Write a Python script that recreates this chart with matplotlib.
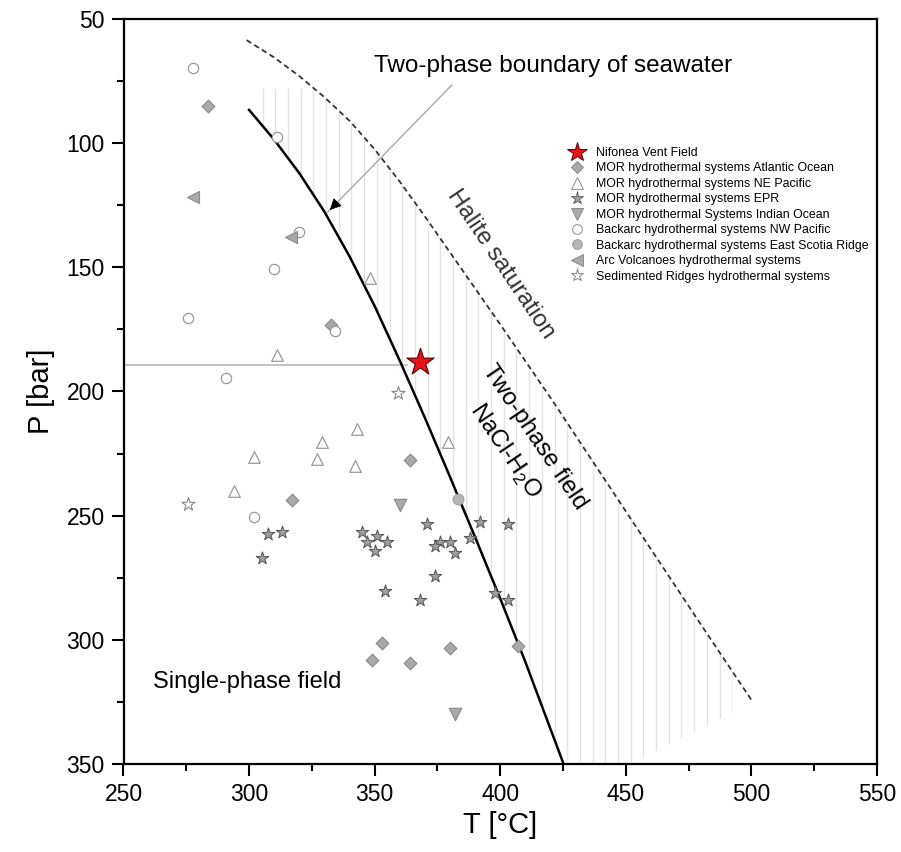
import matplotlib
matplotlib.use("Agg")
import matplotlib.pyplot as plt
import numpy as np
from matplotlib.lines import Line2D
from matplotlib.patches import Polygon

plt.rcParams["font.family"] = ["Liberation Sans", "DejaVu Sans"]
plt.rcParams["mathtext.fontset"] = "custom"
plt.rcParams["mathtext.rm"] = "Liberation Sans"

# ---- boundary curves (T in degC, P in bar)
boil_T = [300, 310, 320, 330, 340, 350, 360, 370, 380, 390, 400, 410, 425]
boil_P = [86.6, 98.6, 112.1, 127.6, 145.6, 165.6, 187.6, 210.6, 234.4, 258.7, 283.4,
          308.9, 349.4]

halite_T = [299, 310, 320, 330, 340, 350, 360, 370, 380, 390, 400, 420, 440, 460, 480, 500]
halite_P = [58.5, 65.5, 73, 81.5, 91, 102.5, 115.5, 129.5, 144, 158.5, 173, 202.5, 233,
            263.5, 294, 324.2]

# hatched two-phase field: flat top, lower-right cut
hatch_top_P = 78
hatch_cut_T = [492.4, 452.0]
hatch_cut_P = [329.4, 350.0]
hatch_T0, hatch_T1, hatch_step = 305.4, 492.5, 5.053

# ---- vent fluid data
atl_T = [283.8, 332.8, 364.0, 316.9, 353.1, 348.8, 364.0, 379.9, 407.1]
atl_P = [84.9, 173.2, 227.5, 243.6, 301.3, 308.3, 309.4, 303.3, 302.4]

nep_T = [348.1, 311.0, 342.9, 328.9, 301.9, 327.0, 342.0, 294.0, 379.0]
nep_P = [154.4, 185.3, 215.2, 220.2, 226.2, 227.3, 230.0, 240.0, 220.2]

epr_T = [307.5, 313.1, 305.1, 344.8, 351.0, 347.0, 355.0, 350.1, 370.9, 375.9, 374.0,
         379.9, 381.9, 387.9, 391.8, 403.0, 374.0, 354.0, 368.0, 398.1, 403.1]
epr_P = [257.3, 256.5, 267.0, 256.4, 258.1, 260.5, 260.5, 264.4, 253.3, 260.5, 262.2,
         260.5, 265.1, 258.8, 252.4, 253.4, 274.2, 280.5, 283.9, 281.2, 283.9]

ind_T = [360.0, 381.9]
ind_P = [245.9, 329.8]

nwp_T = [277.8, 311.0, 319.8, 309.9, 275.8, 334.2, 290.8, 301.9]
nwp_P = [69.6, 97.6, 135.6, 150.6, 170.5, 175.5, 194.4, 250.5]

esr_T = [383.0]
esr_P = [243.4]

arc_T = [277.8, 316.7]
arc_P = [121.8, 137.6]

sed_T = [359.1, 275.8]
sed_P = [200.7, 245.4]

nif_T, nif_P = 368.0, 188.0

fig = plt.figure(figsize=(9.01, 8.52), dpi=100)
ax = fig.add_axes([123.5 / 901, 1 - 764 / 852, (877 - 123.5) / 901, (764 - 19) / 852])
ax.set_xlim(250, 550)
ax.set_ylim(350, 50)

# hatch: light vertical lines clipped to the two-phase field
top_T = np.interp(hatch_top_P, halite_P, halite_T)
hal_T = np.array(halite_T)
hal_P = np.array(halite_P)
keep = (hal_T > top_T) & (hal_T < hatch_cut_T[0])
poly = ([(boil_T[0], hatch_top_P), (top_T, hatch_top_P)]
        + list(zip(hal_T[keep], hal_P[keep]))
        + [(hatch_cut_T[0], np.interp(hatch_cut_T[0], halite_T, halite_P))]
        + list(zip(hatch_cut_T, hatch_cut_P))
        + list(zip(boil_T[::-1], boil_P[::-1])))
clip = Polygon(poly, closed=True, facecolor="none", edgecolor="none")
ax.add_patch(clip)
hl = ax.vlines(np.arange(hatch_T0, hatch_T1, hatch_step), 50, 350,
               color="#e4e4e4", lw=1.0, zorder=1)
hl.set_clip_path(clip)

ax.plot(boil_T, boil_P, color="black", lw=1.8, zorder=3)
ax.plot(halite_T, halite_P, color="#333333", lw=1.3, ls=(0, (3, 2)), zorder=3)

# guide line to Nifonea and arrow to the boundary
ax.plot([250, nif_T - 5], [189.5, 189.5], color="#bdbdbd", lw=1.3, zorder=2)
arr_start = (380.7, 76.6)
arr_tip = (331.4, 127.7)
ax.plot([arr_start[0], arr_tip[0]], [arr_start[1], arr_tip[1]], color="#a8a8a8", lw=1.0, zorder=2)
ax.annotate("", xy=arr_tip, xytext=(arr_tip[0] + 3, arr_tip[1] - 3.1),
            arrowprops=dict(arrowstyle="-|>", color="black", lw=0.5, mutation_scale=18),
            zorder=4)

grey_fill = "#a9a9a9"
grey_edge = "#8a8a8a"
open_edge = "#9a9a9a"

ax.scatter(atl_T, atl_P, marker="D", s=42, facecolor=grey_fill, edgecolor=grey_edge, lw=0.8, zorder=5)
ax.scatter(nep_T, nep_P, marker="^", s=70, facecolor="white", edgecolor=open_edge, lw=0.9, zorder=5)
ax.scatter(epr_T, epr_P, marker="*", s=90, facecolor="#a0a0a0", edgecolor="#555555", lw=0.7, zorder=5)
ax.scatter(ind_T, ind_P, marker="v", s=80, facecolor=grey_fill, edgecolor=grey_edge, lw=0.8, zorder=5)
ax.scatter(nwp_T, nwp_P, marker="o", s=55, facecolor="white", edgecolor=open_edge, lw=0.9, zorder=5)
ax.scatter(esr_T, esr_P, marker="o", s=60, facecolor="#b5b5b5", edgecolor="#a0a0a0", lw=0.8, zorder=5)
ax.scatter(arc_T, arc_P, marker="<", s=75, facecolor=grey_fill, edgecolor=grey_edge, lw=0.8, zorder=5)
ax.scatter(sed_T, sed_P, marker="*", s=100, facecolor="white", edgecolor="#888888", lw=0.8, zorder=5)
ax.scatter([nif_T], [nif_P], marker="*", s=420, facecolor="#e8121a", edgecolor="#5a0000", lw=0.8, zorder=6)

# annotations
ax.text(420.9, 71.3, "Two-phase boundary of seawater", ha="center", va="baseline", fontsize=17.5)
ax.text(400.2, 148.7, "Halite saturation", ha="center", va="center", rotation=-56,
        rotation_mode="anchor", fontsize=17.5, color="#333333")
ax.text(413.5, 218.5, "Two-phase field", ha="center", va="center", rotation=-56,
        rotation_mode="anchor", fontsize=17.5)
ax.text(401.8, 223.9, r"NaCl-H$_\mathregular{2}$O", ha="center", va="center", rotation=-56,
        rotation_mode="anchor", fontsize=17.5)
ax.text(261.7, 319.3, "Single-phase field", ha="left", va="baseline", fontsize=17)

# legend
handles = [
    Line2D([], [], ls="none", marker="*", ms=15, mfc="#e8121a", mec="#5a0000", mew=0.7),
    Line2D([], [], ls="none", marker="D", ms=6.5, mfc=grey_fill, mec=grey_edge, mew=0.7),
    Line2D([], [], ls="none", marker="^", ms=8, mfc="white", mec=open_edge, mew=0.8),
    Line2D([], [], ls="none", marker="*", ms=9.5, mfc="#a0a0a0", mec="#555555", mew=0.6),
    Line2D([], [], ls="none", marker="v", ms=8, mfc=grey_fill, mec=grey_edge, mew=0.7),
    Line2D([], [], ls="none", marker="o", ms=7, mfc="white", mec=open_edge, mew=0.8),
    Line2D([], [], ls="none", marker="o", ms=7, mfc="#b5b5b5", mec="#a0a0a0", mew=0.7),
    Line2D([], [], ls="none", marker="<", ms=8, mfc=grey_fill, mec=grey_edge, mew=0.7),
    Line2D([], [], ls="none", marker="*", ms=9.5, mfc="white", mec="#888888", mew=0.7),
]
labels = [
    "Nifonea Vent Field",
    "MOR hydrothermal systems Atlantic Ocean",
    "MOR hydrothermal systems NE Pacific",
    "MOR hydrothermal systems EPR",
    "MOR hydrothermal Systems Indian Ocean",
    "Backarc hydrothermal systems NW Pacific",
    "Backarc hydrothermal systems East Scotia Ridge",
    "Arc Volcanoes hydrothermal systems",
    "Sedimented Ridges hydrothermal systems",
]
ax.legend(handles, labels, loc="upper left", bbox_to_anchor=(570 / 901, 1 - 147 / 852),
          bbox_transform=fig.transFigure, frameon=False, fontsize=8.9,
          handlelength=1.2, handletextpad=0.9, labelspacing=0.28, borderpad=0,
          borderaxespad=0)

# axes styling
for sp in ax.spines.values():
    sp.set_linewidth(1.6)
ax.set_xticks([250, 300, 350, 400, 450, 500, 550])
ax.set_xticks(np.arange(275, 550, 50), minor=True)
ax.set_yticks([50, 100, 150, 200, 250, 300, 350])
ax.set_yticks(np.arange(75, 350, 50), minor=True)
ax.tick_params(which="major", direction="out", length=8.5, width=1.5, labelsize=16.5, pad=5,
               top=False, right=False)
ax.tick_params(which="minor", direction="out", length=5, width=1.5, top=False, right=False)
ax.set_xlabel("T [°C]", fontsize=21, labelpad=4)
ax.set_ylabel("P [bar]", fontsize=21, labelpad=8)

fig.savefig("out.png", dpi=100)
